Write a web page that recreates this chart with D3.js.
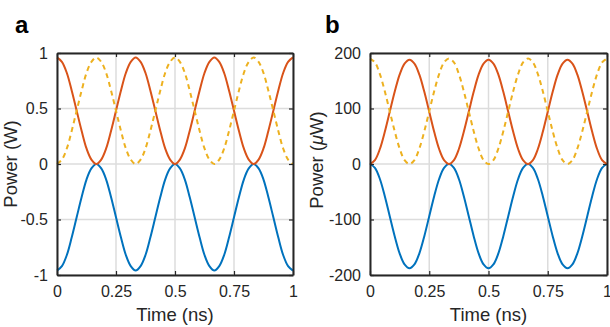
<!DOCTYPE html>
<html><head><meta charset="utf-8">
<script src="https://cdn.jsdelivr.net/npm/d3@7"></script>
<style>
html,body{margin:0;padding:0;background:#fff;}
svg{display:block;font-family:"Liberation Sans",Arial,sans-serif;}
</style>
</head><body>
<svg id="chart" width="610" height="327"></svg>
<script>
// ---- data ----
const timeNs = [0,0.0208,0.0417,0.0625,0.0833,0.1042,0.125,0.1458,0.1667,0.1875,0.2083,0.2292,0.25,0.2708,0.2917,0.3125,0.3333,0.3542,0.375,0.3958,0.4167,0.4375,0.4583,0.4792,0.5,0.5208,0.5417,0.5625,0.5833,0.6042,0.625,0.6458,0.6667,0.6875,0.7083,0.7292,0.75,0.7708,0.7917,0.8125,0.8333,0.8542,0.875,0.8958,0.9167,0.9375,0.9583,0.9792,1];

const aRed = [0.96,0.92,0.82,0.66,0.48,0.30,0.14,0.04,0,0.04,0.14,0.30,0.48,0.66,0.82,0.92,
              0.96,0.92,0.82,0.66,0.48,0.30,0.14,0.04,0,0.04,0.14,0.30,0.48,0.66,0.82,0.92,
              0.96,0.92,0.82,0.66,0.48,0.30,0.14,0.04,0,0.04,0.14,0.30,0.48,0.66,0.82,0.92,0.96];
const aYellow = [0,0.04,0.14,0.30,0.48,0.66,0.82,0.92,0.96,0.92,0.82,0.66,0.48,0.30,0.14,0.04,
                 0,0.04,0.14,0.30,0.48,0.66,0.82,0.92,0.96,0.92,0.82,0.66,0.48,0.30,0.14,0.04,
                 0,0.04,0.14,0.30,0.48,0.66,0.82,0.92,0.96,0.92,0.82,0.66,0.48,0.30,0.14,0.04,0];
const aBlue = [-0.96,-0.92,-0.82,-0.66,-0.48,-0.30,-0.14,-0.04,0,-0.04,-0.14,-0.30,-0.48,-0.66,-0.82,-0.92,
               -0.96,-0.92,-0.82,-0.66,-0.48,-0.30,-0.14,-0.04,0,-0.04,-0.14,-0.30,-0.48,-0.66,-0.82,-0.92,
               -0.96,-0.92,-0.82,-0.66,-0.48,-0.30,-0.14,-0.04,0,-0.04,-0.14,-0.30,-0.48,-0.66,-0.82,-0.92,-0.96];

const bRed = [0,7,27,58,94,130,161,181,188,181,161,130,94,58,27,7,
              0,7,27,58,94,130,161,181,188,181,161,130,94,58,27,7,
              0,7,27,58,94,130,161,181,188,181,161,130,94,58,27,7,0];
const bYellow = [190,183,162,131,95,59,28,7,0,7,28,59,95,131,162,183,
                 190,183,162,131,95,59,28,7,0,7,28,59,95,131,162,183,
                 190,183,162,131,95,59,28,7,0,7,28,59,95,131,162,183,190];
const bBlue = [0,-7,-27,-58,-94,-130,-161,-181,-188,-181,-161,-130,-94,-58,-27,-7,
               0,-7,-27,-58,-94,-130,-161,-181,-188,-181,-161,-130,-94,-58,-27,-7,
               0,-7,-27,-58,-94,-130,-161,-181,-188,-181,-161,-130,-94,-58,-27,-7,0];

const xTicks = [0,0.25,0.5,0.75,1];
const xTickLabels = ["0","0.25","0.5","0.75","1"];
const aYTicks = [-1,-0.5,0,0.5,1];
const aYTickLabels = ["-1","-0.5","0","0.5","1"];
const bYTicks = [-200,-100,0,100,200];
const bYTickLabels = ["-200","-100","0","100","200"];

const colors = {blue:"#0072BD", red:"#D95319", yellow:"#EDB120"};

// ---- drawing ----
const svg = d3.select("#chart");
const textColor = "#262626";

function panel(opt){
  const x = d3.scaleLinear().domain([0,1]).range([opt.left, opt.right]);
  const y = d3.scaleLinear().domain(opt.yDomain).range([opt.bottom, opt.top]);
  const g = svg.append("g");

  // grid
  g.selectAll(".gx").data(xTicks).join("line")
    .attr("x1",d=>x(d)).attr("x2",d=>x(d)).attr("y1",opt.top).attr("y2",opt.bottom)
    .attr("stroke","#dcdcdc").attr("stroke-width",1.5);
  g.selectAll(".gy").data(opt.yTicks).join("line")
    .attr("y1",d=>y(d)).attr("y2",d=>y(d)).attr("x1",opt.left).attr("x2",opt.right)
    .attr("stroke","#dcdcdc").attr("stroke-width",1.5);

  // lines
  const line = d3.line().x((d,i)=>x(timeNs[i])).y(d=>y(d)).curve(d3.curveCatmullRom);
  const series = [
    {v:opt.blue, c:colors.blue, dash:null},
    {v:opt.red, c:colors.red, dash:null},
    {v:opt.yellow, c:colors.yellow, dash:"5,4"}
  ];
  series.forEach(s=>{
    g.append("path").datum(s.v).attr("d",line)
      .attr("fill","none").attr("stroke",s.c).attr("stroke-width",2)
      .attr("stroke-dasharray",s.dash);
  });

  // axes (MATLAB-style box with inward ticks)
  const tl = 4;
  const axB = d3.axisBottom(x).tickValues(xTicks).tickFormat((d,i)=>xTickLabels[i]).tickSizeInner(-tl).tickSizeOuter(0).tickPadding(11);
  const gb = g.append("g").attr("transform",`translate(0,${opt.bottom})`).call(axB);
  const axT = d3.axisTop(x).tickValues(xTicks).tickFormat("").tickSizeInner(-tl).tickSizeOuter(0);
  const gt = g.append("g").attr("transform",`translate(0,${opt.top})`).call(axT);
  const axL = d3.axisLeft(y).tickValues(opt.yTicks).tickFormat((d,i)=>opt.yTickLabels[i]).tickSizeInner(-tl).tickSizeOuter(0).tickPadding(9);
  const gl = g.append("g").attr("transform",`translate(${opt.left},0)`).call(axL);
  const axR = d3.axisRight(y).tickValues(opt.yTicks).tickFormat("").tickSizeInner(-tl).tickSizeOuter(0);
  const gr = g.append("g").attr("transform",`translate(${opt.right},0)`).call(axR);
  [gb,gt,gl,gr].forEach(a=>{
    a.select(".domain").attr("stroke","#262626").attr("stroke-width",2);
    a.selectAll(".tick line").attr("stroke","#262626").attr("stroke-width",1.2);
    a.selectAll(".tick text").attr("fill",textColor).attr("font-size",16)
      .attr("font-family","'Liberation Sans',Arial,sans-serif");
  });

  // x label
  g.append("text").attr("x",(opt.left+opt.right)/2).attr("y",321)
    .attr("text-anchor","middle").attr("font-size",18.5).attr("fill",textColor).text("Time (ns)");
  // y label
  const yl = g.append("text").attr("transform",`translate(${opt.ylx},${opt.yly}) rotate(-90)`)
    .attr("text-anchor","middle").attr("font-size",18.5).attr("fill",textColor);
  opt.ylabel(yl);
  // panel letter
  g.append("text").attr("x",opt.letterX).attr("y",33).attr("font-size",24).attr("font-weight","bold")
    .attr("fill","#000").text(opt.letter);
}

panel({left:57,right:293,top:53,bottom:275,yDomain:[-1,1],yTicks:aYTicks,yTickLabels:aYTickLabels,
  blue:aBlue,red:aRed,yellow:aYellow,ylx:17,yly:164,letter:"a",letterX:15,
  ylabel:t=>t.text("Power (W)")});
panel({left:370,right:607,top:53,bottom:275,yDomain:[-200,200],yTicks:bYTicks,yTickLabels:bYTickLabels,
  blue:bBlue,red:bRed,yellow:bYellow,ylx:323,yly:160,letter:"b",letterX:325,
  ylabel:t=>{t.append("tspan").text("Power (");t.append("tspan").attr("font-style","italic").text("\u03bc");t.append("tspan").text("W)");}});
</script>
</body></html>
